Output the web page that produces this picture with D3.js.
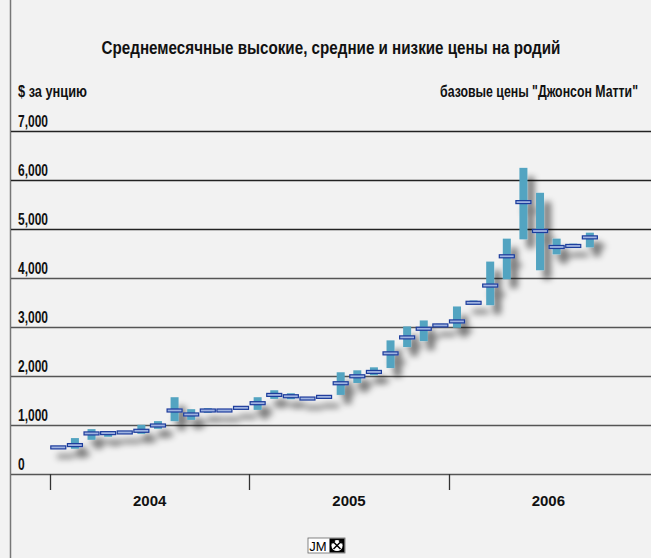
<!DOCTYPE html>
<html><head><meta charset="utf-8">
<script src="https://cdn.jsdelivr.net/npm/d3@7/dist/d3.min.js"></script>
<style>
html,body{margin:0;padding:0;background:#f2f2f2;}
svg{display:block;}
.cond{font-family:"Liberation Sans",Arial,sans-serif;font-weight:bold;}
</style></head><body>
<script>
const months = ["2004-01","2004-02","2004-03","2004-04","2004-05","2004-06","2004-07","2004-08","2004-09","2004-10","2004-11","2004-12",
"2005-01","2005-02","2005-03","2005-04","2005-05","2005-06","2005-07","2005-08","2005-09","2005-10","2005-11","2005-12",
"2006-01","2006-02","2006-03","2006-04","2006-05","2006-06","2006-07","2006-08","2006-09","2006-10","2006-11","2006-12"];
const avgPrice = [543,590,828,834,848,882,990,1296,1215,1296,1296,1350,
1445,1614,1587,1540,1574,1852,1994,2083,2462,2788,2964,3032,
3114,3494,3846,4443,5549,4959,4633,4654,4829];
const highPrice = [555,733,916,840,860,1004,1079,1567,1323,1343,1310,1360,
1567,1709,1648,1560,1600,2076,2116,2177,2727,3012,3134,3066,
3419,3541,4335,4803,6248,5739,4803,4701,4925];
const lowPrice = [530,515,698,760,830,820,922,1079,1105,1248,1280,1330,
1309,1533,1526,1520,1547,1614,1858,2015,2163,2591,2713,2998,
2985,3474,3445,3975,4789,4158,4483,4626,4626];
const yTicks = [0,1000,2000,3000,4000,5000,6000,7000];
const years = ["2004","2005","2006"];
const title = "Среднемесячные высокие, средние и низкие цены на родий";
const unitLabel = "$ за унцию";
const sourceLabel = "базовые цены \"Джонсон Матти\"";

const W=651,H=558;
const svg=d3.select("body").append("svg").attr("width",W).attr("height",H);
svg.append("rect").attr("width",W).attr("height",H).attr("fill","#f2f2f2");

const defs=svg.append("defs");
const f=defs.append("filter").attr("id","sh").attr("x","-100%").attr("y","-50%").attr("width","300%").attr("height","200%");
f.append("feGaussianBlur").attr("in","SourceAlpha").attr("stdDeviation",3.4).attr("result","b");
f.append("feOffset").attr("in","b").attr("dx",7).attr("dy",9).attr("result","o");
f.append("feComponentTransfer").attr("in","o").attr("result","s").append("feFuncA").attr("type","linear").attr("slope",0.5);
const m=f.append("feMerge"); m.append("feMergeNode").attr("in","s"); m.append("feMergeNode").attr("in","SourceGraphic");

const x=d3.scaleBand().domain(months).range([50,648]).padding(0);
const y=d3.scaleLinear().domain([0,7000]).range([474,131]);

// frame
svg.append("line").attr("x1",10.5).attr("x2",10.5).attr("y1",0).attr("y2",H).attr("stroke","#777").attr("stroke-width",1.5);

// condensed text helper: horizontally squeezed bold sans
function ctext(sel, tx, ty, str, size, sx, anchor){
  return sel.append("text").attr("class","cond").attr("font-size",size).attr("fill","#111")
    .attr("text-anchor",anchor||"start")
    .attr("transform",`translate(${tx},${ty}) scale(${sx},1)`).text(str);
}
ctext(svg, 331, 54, title, 19, 0.8, "middle");
ctext(svg, 18, 97, unitLabel, 16, 0.8, "start");
ctext(svg, 638, 97, sourceLabel, 16, 0.77, "end");

// grid
const g=svg.append("g");
g.selectAll("line.grid").data(yTicks).join("line").attr("class","grid")
 .attr("x1",11).attr("x2",W).attr("y1",d=>Math.round(y(d))+0.5).attr("y2",d=>Math.round(y(d))+0.5)
 .attr("stroke",d=>d>=5000?"#222":"#555").attr("stroke-width",1.6);
yTicks.forEach(d=>ctext(g, 18, y(d)-4, d3.format(",")(d), 16, 0.75, "start"));

// x axis ticks
const yearStarts = years.map(yr=>yr+"-01");
svg.selectAll("line.xt").data(yearStarts).join("line").attr("class","xt")
 .attr("x1",d=>Math.round(x(d))+0.5).attr("x2",d=>Math.round(x(d))+0.5).attr("y1",474).attr("y2",490)
 .attr("stroke","#333").attr("stroke-width",1.3);
svg.selectAll("text.xl").data(years).join("text").attr("class","xl")
 .attr("x",d=>x(d+"-07")).attr("y",506).attr("text-anchor","middle")
 .attr("font-family","Liberation Sans, Arial, sans-serif").attr("font-weight","bold").attr("font-size",15).attr("fill","#111")
 .text(d=>d);

// data
const data = avgPrice.map((a,i)=>({m:months[i],avg:a,hi:highPrice[i],lo:lowPrice[i]}));
const marks=svg.append("g").attr("filter","url(#sh)");
const bw=8, mw=15;
marks.selectAll("rect.rng").data(data).join("rect").attr("class","rng")
 .attr("x",d=>x(d.m)+x.bandwidth()/2-bw/2).attr("width",bw)
 .attr("y",d=>y(d.hi)).attr("height",d=>Math.max(1,y(d.lo)-y(d.hi)))
 .attr("fill","#52a4c1");
marks.selectAll("rect.avg").data(data).join("rect").attr("class","avg")
 .attr("x",d=>x(d.m)+x.bandwidth()/2-mw/2).attr("width",mw)
 .attr("y",d=>y(d.avg)-1.5).attr("height",3)
 .attr("fill","#9fb3e0").attr("stroke","#1d3c9c").attr("stroke-width",1.2);

// logo
const lg=svg.append("g").attr("transform","translate(308,538)");
lg.append("rect").attr("x",0).attr("y",0).attr("width",37).attr("height",15).attr("fill","#fff").attr("stroke","#666").attr("stroke-width",0.8);
lg.append("text").attr("x",1.2).attr("y",12.5).attr("font-family","Liberation Sans, Arial, sans-serif").attr("font-size",13).attr("fill","#000").text("JM");
lg.append("rect").attr("x",21.5).attr("y",0.5).attr("width",15).attr("height",14).attr("fill","#000");
lg.append("circle").attr("cx",29).attr("cy",7.5).attr("r",5.6).attr("fill","#fff");
lg.append("path").attr("d","M25.5,11 L32.5,4 M32.5,11 L25.5,4 M24.2,5.2 L26.8,2.6 M31.2,2.6 L33.8,5.2").attr("stroke","#000").attr("stroke-width",1.5).attr("fill","none");
</script>
</body></html>
